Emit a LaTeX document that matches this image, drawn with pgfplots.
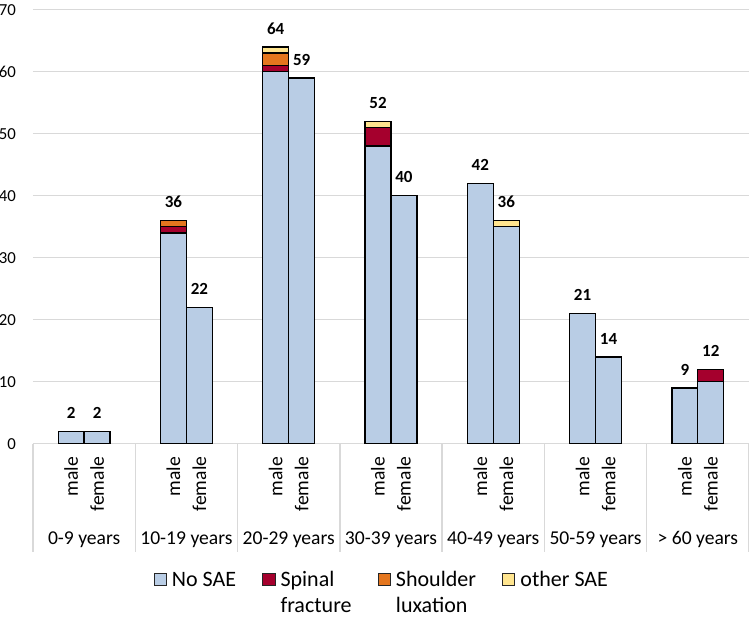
\documentclass[border=0pt]{standalone}
\usepackage{fontspec}
\setmainfont{Carlito}
\usepackage{pgfplots}
\pgfplotsset{compat=1.18}
\definecolor{nosae}{RGB}{185,205,229}
\definecolor{spinal}{RGB}{165,0,45}
\definecolor{shoulder}{RGB}{228,118,30}
\definecolor{othersae}{RGB}{255,229,143}
\definecolor{gridc}{RGB}{217,217,217}
\begin{document}
\begin{tikzpicture}
\path[use as bounding box] (-16.5pt,-88.65pt) rectangle (358pt,221.85pt);
\begin{axis}[
  at={(0,0)}, anchor=south west,
  scale only axis, width=358pt, height=217pt,
  clip=false,
  xmin=-0.5, xmax=6.5, ymin=0, ymax=70,
  ybar stacked, bar width=0.254,
  ytick={0,10,...,70},
  ymajorgrids, grid style={gridc, line width=0.65pt},
  axis line style={draw=none},
  major tick length=0pt,
  xtick pos=left, ytick pos=left,
  /pgf/number format/assume math mode=true,
  yticklabel style={font=\fontsize{8.4}{10}\selectfont, xshift=-5pt},
  xtick={-0.127,0.127,0.873,1.127,1.873,2.127,2.873,3.127,3.873,4.127,4.873,5.127,5.873,6.127},
  xticklabels={male,female,male,female,male,female,male,female,male,female,male,female,male,female},
  xticklabel style={yshift=-3pt, rotate=90, anchor=east, font=\fontsize{9.8}{11}\selectfont},
  extra x ticks={-0.5,0.5,1.5,2.5,3.5,4.5,5.5,6.5},
  extra x tick labels={},
  extra x tick style={grid=none, tick align=outside, major tick length=54pt, tick style={gridc, line width=0.65pt}},
  legend style={at={(0.4885,0)}, anchor=north, yshift=-58pt, draw=none, fill=none,
    legend columns=4, font=\fontsize{11}{13}\selectfont,
    /tikz/every odd column/.append style={column sep=0.5pt},
    /tikz/every even column/.append style={column sep=11pt},
    cells={anchor=base west}},
  legend image code/.code={\draw[#1, draw=black!85, line width=0.5pt] (0pt,0.2pt) rectangle (6.2pt,6.4pt);},
]
\addplot[fill=nosae, draw=black, line width=0.65pt] coordinates {(-0.127,2) (0.127,2) (0.873,34) (1.127,22) (1.873,60) (2.127,59) (2.873,48) (3.127,40) (3.873,42) (4.127,35) (4.873,21) (5.127,14) (5.873,9) (6.127,10)};
\addplot[fill=spinal, draw=black, line width=0.65pt] coordinates {(-0.127,0) (0.127,0) (0.873,1) (1.127,0) (1.873,1) (2.127,0) (2.873,3) (3.127,0) (3.873,0) (4.127,0) (4.873,0) (5.127,0) (5.873,0) (6.127,2)};
\addplot[fill=shoulder, draw=black, line width=0.65pt] coordinates {(-0.127,0) (0.127,0) (0.873,1) (1.127,0) (1.873,2) (2.127,0) (2.873,0) (3.127,0) (3.873,0) (4.127,0) (4.873,0) (5.127,0) (5.873,0) (6.127,0)};
\addplot[fill=othersae, draw=black, line width=0.65pt] coordinates {(-0.127,0) (0.127,0) (0.873,0) (1.127,0) (1.873,1) (2.127,0) (2.873,1) (3.127,0) (3.873,0) (4.127,1) (4.873,0) (5.127,0) (5.873,0) (6.127,0)};
\legend{No SAE, {\begin{tabular}[t]{@{}l@{}}Spinal\\fracture\end{tabular}}, {\begin{tabular}[t]{@{}l@{}}Shoulder\\luxation\end{tabular}}, other SAE}
\node[font=\bfseries\fontsize{8.5}{10}\selectfont, yshift=9.2pt] at (axis cs:-0.127,2) {2};
\node[font=\bfseries\fontsize{8.5}{10}\selectfont, yshift=9.2pt] at (axis cs:0.127,2) {2};
\node[font=\bfseries\fontsize{8.5}{10}\selectfont, yshift=9.2pt] at (axis cs:0.873,36) {36};
\node[font=\bfseries\fontsize{8.5}{10}\selectfont, yshift=9.2pt] at (axis cs:1.127,22) {22};
\node[font=\bfseries\fontsize{8.5}{10}\selectfont, yshift=9.2pt] at (axis cs:1.873,64) {64};
\node[font=\bfseries\fontsize{8.5}{10}\selectfont, yshift=9.2pt] at (axis cs:2.127,59) {59};
\node[font=\bfseries\fontsize{8.5}{10}\selectfont, yshift=9.2pt] at (axis cs:2.873,52) {52};
\node[font=\bfseries\fontsize{8.5}{10}\selectfont, yshift=9.2pt] at (axis cs:3.127,40) {40};
\node[font=\bfseries\fontsize{8.5}{10}\selectfont, yshift=9.2pt] at (axis cs:3.873,42) {42};
\node[font=\bfseries\fontsize{8.5}{10}\selectfont, yshift=9.2pt] at (axis cs:4.127,36) {36};
\node[font=\bfseries\fontsize{8.5}{10}\selectfont, yshift=9.2pt] at (axis cs:4.873,21) {21};
\node[font=\bfseries\fontsize{8.5}{10}\selectfont, yshift=9.2pt] at (axis cs:5.127,14) {14};
\node[font=\bfseries\fontsize{8.5}{10}\selectfont, yshift=9.2pt] at (axis cs:5.873,9) {9};
\node[font=\bfseries\fontsize{8.5}{10}\selectfont, yshift=9.2pt] at (axis cs:6.127,12) {12};
\node[font=\fontsize{9.8}{11}\selectfont, anchor=base, yshift=-50.2pt] at (axis cs:0,0) {0-9 years};
\node[font=\fontsize{9.8}{11}\selectfont, anchor=base, yshift=-50.2pt] at (axis cs:1,0) {10-19 years};
\node[font=\fontsize{9.8}{11}\selectfont, anchor=base, yshift=-50.2pt] at (axis cs:2,0) {20-29 years};
\node[font=\fontsize{9.8}{11}\selectfont, anchor=base, yshift=-50.2pt] at (axis cs:3,0) {30-39 years};
\node[font=\fontsize{9.8}{11}\selectfont, anchor=base, yshift=-50.2pt] at (axis cs:4,0) {40-49 years};
\node[font=\fontsize{9.8}{11}\selectfont, anchor=base, yshift=-50.2pt] at (axis cs:5,0) {50-59 years};
\node[font=\fontsize{9.8}{11}\selectfont, anchor=base, yshift=-50.2pt] at (axis cs:6,0) {> 60 years};
\end{axis}
\end{tikzpicture}
\end{document}
